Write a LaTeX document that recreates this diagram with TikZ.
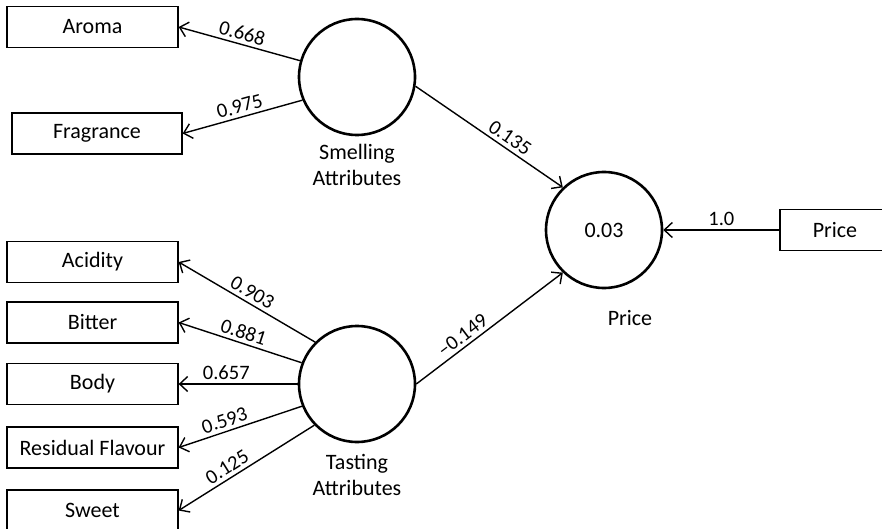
\documentclass[tikz,border=0pt]{standalone}
\usepackage{fontspec}
\setmainfont{Carlito}
\usetikzlibrary{arrows.meta}

\begin{document}
\begin{tikzpicture}[x=1pt,y=-1pt,
  item/.style={draw,line width=1.3pt,minimum width=171pt,minimum height=41pt,inner sep=0pt,font=\fontsize{22}{26}\selectfont},
  latent/.style={circle,draw,line width=2.6pt,minimum size=116pt,inner sep=0pt,font=\fontsize{22}{26}\selectfont},
  caption/.style={align=center,font=\fontsize{22}{26}\selectfont},
  load/.style={line width=1.4pt,-{Straight Barb[length=8pt,width=15pt]}},
  coef/.style={sloped,above,inner sep=3.5pt,font=\fontsize{20.5}{24}\selectfont}]
\clip (0,0) rectangle (882,529);
% indicators
\node[item] (aroma) at (92.5,27) {Aroma};
\node[item,minimum width=170pt] (fragrance) at (97,133.5) {Fragrance};
\node[item] (acidity) at (92.5,262) {Acidity};
\node[item] (bitter) at (92.5,322.5) {Bitter};
\node[item] (body) at (92.5,384) {Body};
\node[item] (residual) at (92.5,447.5) {Residual Flavour};
\node[item] (sweet) at (92.5,510.5) {Sweet};
\node[item,minimum width=110pt] (pricebox) at (835,230) {Price};
% latent variables
\node[latent] (smell) at (357,77) {};
\node[caption] at (357,165) {Smelling\\Attributes};
\node[latent] (taste) at (357,384) {};
\node[caption] at (357,475) {Tasting\\Attributes};
\node[latent] (price) at (604,230) {0.03};
\node[caption] at (630,318) {Price};
% loadings
\draw[load] (smell.164.6) -- node[coef] {0.668} (aroma.east);
\draw[load] (smell.203) -- node[coef] {0.975} (fragrance.east);
\draw[load] (taste.135) -- node[coef] {0.903} (acidity.east);
\draw[load] (taste.159) -- node[coef] {0.881} (bitter.east);
\draw[load] (taste.180) -- node[coef,pos=0.6] {0.657} (body.east);
\draw[load] (taste.202) -- node[coef,pos=0.6] {0.593} (residual.east);
\draw[load] (taste.224) -- node[coef,pos=0.6] {0.125} (sweet.east);
% paths
\draw[load] (smell.351) -- node[coef,pos=0.6] {0.135} (price.134);
\draw[load] (taste.0) -- node[coef,pos=0.36] {–0.149} (price.226);
\draw[load] (pricebox.west) -- node[coef] {1.0} (price.east);
\end{tikzpicture}
\end{document}
